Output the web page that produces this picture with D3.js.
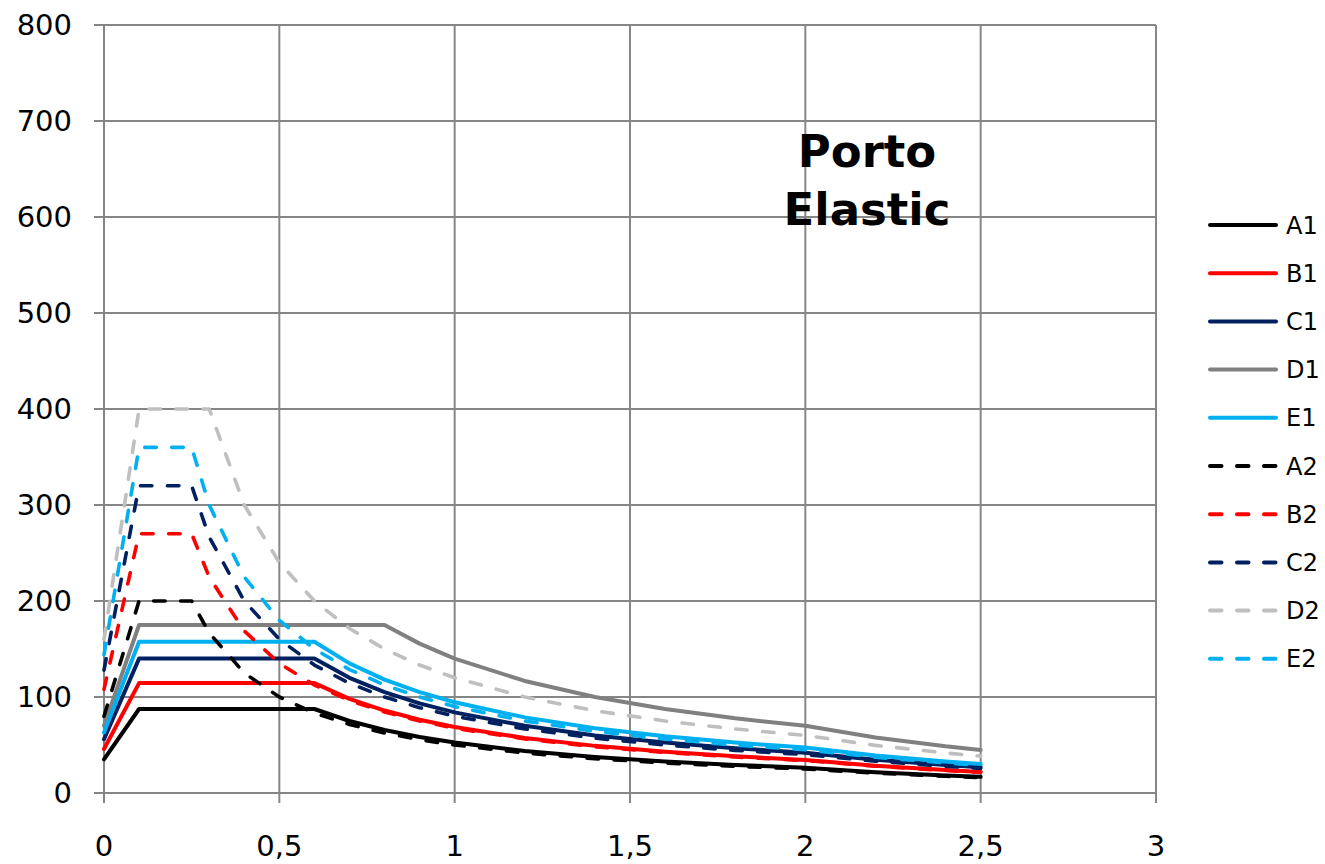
<!DOCTYPE html>
<html>
<head>
<meta charset="utf-8">
<script src="https://cdn.jsdelivr.net/npm/d3@7"></script>
<style>
  html, body { margin: 0; padding: 0; background: #ffffff; }
  svg { display: block; }
  text { font-family: "DejaVu Sans", Verdana, sans-serif; }
</style>
</head>
<body>
<svg id="chart" width="1325" height="864"></svg>
<script>
// Period T (s)
const periods = [0, 0.1, 0.2, 0.25, 0.3, 0.4, 0.5, 0.6, 0.7, 0.8, 0.9, 1.0, 1.2, 1.4, 1.6, 1.8, 2.0, 2.2, 2.4, 2.5];

// Type 1 spectra
const A1 = [35, 87.5, 87.5, 87.5, 87.5, 87.5, 87.5, 87.5, 75.0, 65.6, 58.3, 52.5, 43.8, 37.5, 32.8, 29.2, 26.3, 21.7, 18.2, 16.8];
const B1 = [45.8, 114.5, 114.5, 114.5, 114.5, 114.5, 114.5, 114.5, 98.1, 85.9, 76.3, 68.7, 57.3, 49.1, 42.9, 38.2, 34.4, 28.4, 23.9, 22.0];
const C1 = [56, 140, 140, 140, 140, 140, 140, 140, 120, 105, 93.3, 84, 70, 60, 52.5, 46.7, 42, 34.7, 29.2, 26.9];
const D1 = [70, 175, 175, 175, 175, 175, 175, 175, 175, 175, 155.6, 140, 116.7, 100, 87.5, 77.8, 70, 57.9, 48.6, 44.8];
const E1 = [63, 157.5, 157.5, 157.5, 157.5, 157.5, 157.5, 157.5, 135, 118.1, 105, 94.5, 78.8, 67.5, 59.1, 52.5, 47.3, 39.0, 32.8, 30.2];

// Type 2 spectra
const A2 = [80, 200, 200, 200, 166.7, 125, 100, 83.3, 71.4, 62.5, 55.6, 50, 41.7, 35.7, 31.3, 27.8, 25, 20.7, 17.4, 16.0];
const B2 = [108, 270, 270, 270, 225, 168.8, 135, 112.5, 96.4, 84.4, 75, 67.5, 56.3, 48.2, 42.2, 37.5, 33.8, 27.9, 23.4, 21.6];
const C2 = [128, 320, 320, 320, 266.7, 200, 160, 133.3, 114.3, 100, 88.9, 80, 66.7, 57.1, 50, 44.4, 40, 33.1, 27.8, 25.6];
const D2 = [160, 400, 400, 400, 400, 300, 240, 200, 171.4, 150, 133.3, 120, 100, 85.7, 75, 66.7, 60, 49.6, 41.7, 38.4];
const E2 = [144, 360, 360, 360, 300, 225, 180, 150, 128.6, 112.5, 100, 90, 75, 64.3, 56.3, 50, 45, 37.2, 31.3, 28.8];

const seriesNames = ["A1", "B1", "C1", "D1", "E1", "A2", "B2", "C2", "D2", "E2"];
const seriesValues = [A1, B1, C1, D1, E1, A2, B2, C2, D2, E2];
const seriesColors = ["#000000", "#FF0000", "#002060", "#808080", "#00B0F0",
                      "#000000", "#FF0000", "#002060", "#BFBFBF", "#00B0F0"];
const seriesDashed = [false, false, false, false, false, true, true, true, true, true];

const xTicks = [0, 0.5, 1, 1.5, 2, 2.5, 3];
const yTicks = [0, 100, 200, 300, 400, 500, 600, 700, 800];
const titleLines = ["Porto", "Elastic"];

const svg = d3.select("#chart");
const x = d3.scaleLinear().domain([0, 3]).range([104, 1156]);
const y = d3.scaleLinear().domain([0, 800]).range([793, 25]);
const gridColor = "#868686";

// gridlines
const g = svg.append("g");
g.selectAll("line.h").data(yTicks).enter().append("line")
  .attr("x1", x(0) - 10).attr("x2", x(3))
  .attr("y1", d => y(d)).attr("y2", d => y(d))
  .attr("stroke", gridColor).attr("stroke-width", 2);
g.selectAll("line.v").data(xTicks).enter().append("line")
  .attr("x1", d => x(d)).attr("x2", d => x(d))
  .attr("y1", y(800)).attr("y2", y(0) + 10)
  .attr("stroke", gridColor).attr("stroke-width", 2);

// tick labels
g.selectAll("text.y").data(yTicks).enter().append("text")
  .attr("x", 72).attr("y", d => y(d)).attr("dy", "0.36em")
  .attr("text-anchor", "end").attr("font-size", 29).attr("fill", "#000")
  .text(d => d3.format("d")(d));
g.selectAll("text.x").data(xTicks).enter().append("text")
  .attr("x", d => x(d)).attr("y", 856)
  .attr("text-anchor", "middle").attr("font-size", 29).attr("fill", "#000")
  .text(d => String(d).replace(".", ","));

// series
const line = d3.line().x((d, i) => x(periods[i])).y(d => y(d));
seriesValues.forEach((vals, k) => {
  svg.append("path").datum(vals)
    .attr("d", line)
    .attr("fill", "none")
    .attr("stroke", seriesColors[k])
    .attr("stroke-width", seriesDashed[k] ? 3.6 : 4)
    .attr("stroke-linejoin", "round")
    .attr("stroke-linecap", "round")
    .attr("stroke-dasharray", seriesDashed[k] ? "11.5,15.5" : null);
});

// title
svg.append("text").attr("x", 867).attr("y", 167)
  .attr("text-anchor", "middle").attr("font-size", 45).attr("font-weight", "bold")
  .text(titleLines[0]);
svg.append("text").attr("x", 867).attr("y", 225)
  .attr("text-anchor", "middle").attr("font-size", 45).attr("font-weight", "bold")
  .text(titleLines[1]);

// legend
const leg = svg.append("g");
seriesNames.forEach((name, k) => {
  const cy = 225 + k * 48.2;
  leg.append("line")
    .attr("x1", 1210).attr("x2", 1276).attr("y1", cy).attr("y2", cy)
    .attr("stroke", seriesColors[k]).attr("stroke-width", 4)
    .attr("stroke-linecap", "round")
    .attr("stroke-dasharray", seriesDashed[k] ? "11.5,15.5" : null);
  leg.append("text")
    .attr("x", 1286).attr("y", cy).attr("dy", "0.36em")
    .attr("font-size", 24).attr("fill", "#000")
    .text(name);
});
</script>
</body>
</html>
